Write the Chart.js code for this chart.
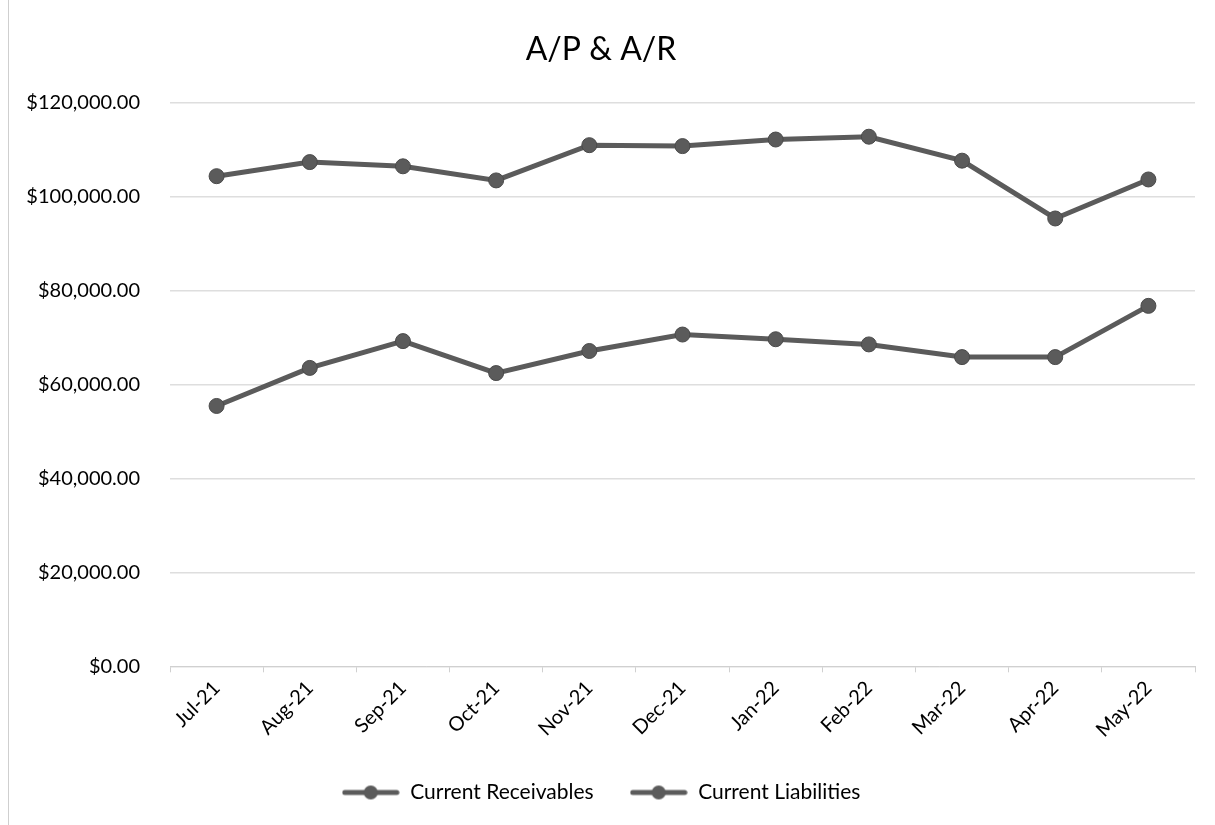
<!DOCTYPE html>
<html>
<head>
<meta charset="utf-8">
<script src="https://cdn.jsdelivr.net/npm/chart.js@4.4.1/dist/chart.umd.min.js"></script>
<style>
  html, body { margin: 0; padding: 0; background: #fff; }
  #wrap { position: relative; width: 1215px; height: 825px; }
  #edge { position: absolute; left: 8px; top: 0; width: 1px; height: 825px; background: #cfcfcf; }
</style>
</head>
<body>
<div id="wrap">
  <div id="edge"></div>
  <canvas id="chart" width="1215" height="825"></canvas>
</div>
<script>
// A/P & A/R — monthly balances
const months = ['Jul-21', 'Aug-21', 'Sep-21', 'Oct-21', 'Nov-21', 'Dec-21',
                'Jan-22', 'Feb-22', 'Mar-22', 'Apr-22', 'May-22'];
const receivables = [55400, 63500, 69200, 62400, 67100, 70600, 69600, 68500, 65800, 65800, 76700];
const liabilities = [104300, 107300, 106400, 103400, 110900, 110700, 112100, 112700, 107600, 95300, 103600];
const yTicks = [0, 20000, 40000, 60000, 80000, 100000, 120000];

const FONT = 'Lato, "Open Sans", sans-serif';
const lineCol = '#5b5b5b';
const textCol = '#000';

function money(v) {
  return '$' + Number(v).toLocaleString('en-US', { minimumFractionDigits: 2, maximumFractionDigits: 2 });
}

// legend swatch: short thick line with a dot, like Excel
function swatch(col) {
  const c = document.createElement('canvas');
  c.width = 58; c.height = 16;
  const g = c.getContext('2d');
  g.strokeStyle = col; g.lineWidth = 5; g.lineCap = 'round';
  g.beginPath(); g.moveTo(3, 8); g.lineTo(55, 8); g.stroke();
  g.fillStyle = col;
  g.beginPath(); g.arc(29, 8, 7, 0, Math.PI * 2); g.fill();
  return c;
}

new Chart(document.getElementById('chart'), {
  type: 'line',
  data: {
    labels: months,
    datasets: [
      { label: 'Current Receivables', data: receivables,
        borderColor: lineCol, backgroundColor: lineCol, borderWidth: 5,
        pointRadius: 7.5, pointBackgroundColor: lineCol, pointBorderColor: '#4a4a4a', pointBorderWidth: 1,
        tension: 0 },
      { label: 'Current Liabilities', data: liabilities,
        borderColor: lineCol, backgroundColor: lineCol, borderWidth: 5,
        pointRadius: 7.5, pointBackgroundColor: lineCol, pointBorderColor: '#4a4a4a', pointBorderWidth: 1,
        tension: 0 },
    ],
  },
  options: {
    responsive: false,
    animation: false,
    layout: { padding: { left: 7, right: 20, top: 30, bottom: 12 } },
    plugins: {
      title: {
        display: true, text: 'A/P & A/R', color: textCol,
        font: { family: FONT, size: 32, weight: 'normal' },
        padding: { top: 0, bottom: 34 },
      },
      legend: {
        position: 'bottom',
        labels: {
          color: textCol, font: { family: FONT, size: 21 },
          usePointStyle: true, pointStyleWidth: 58, boxHeight: 16, padding: 36,
          generateLabels: (chart) => chart.data.datasets.map((ds, i) => ({
            text: ds.label, fontColor: textCol, pointStyle: swatch(lineCol),
            strokeStyle: lineCol, fillStyle: lineCol, lineWidth: 0, datasetIndex: i,
          })),
        },
      },
      tooltip: { enabled: false },
    },
    scales: {
      x: {
        offset: true,
        grid: { display: true, drawOnChartArea: false, offset: true, color: '#d0d0d0', tickLength: 6 },
        border: { display: true, color: '#d0d0d0', width: 1 },
        ticks: { color: textCol, font: { family: FONT, size: 20 }, maxRotation: 45, minRotation: 45, padding: 4 },
      },
      y: {
        min: 0, max: 120000,
        afterBuildTicks: (axis) => { axis.ticks = yTicks.map(v => ({ value: v })); },
        afterFit: (axis) => { axis.width = 163; },
        grid: { color: '#dedede', lineWidth: 1.5, drawTicks: false },
        border: { display: false },
        ticks: { color: textCol, font: { family: FONT, size: 20 }, padding: 30, callback: (v) => money(v) },
      },
    },
  },
});
</script>
</body>
</html>
